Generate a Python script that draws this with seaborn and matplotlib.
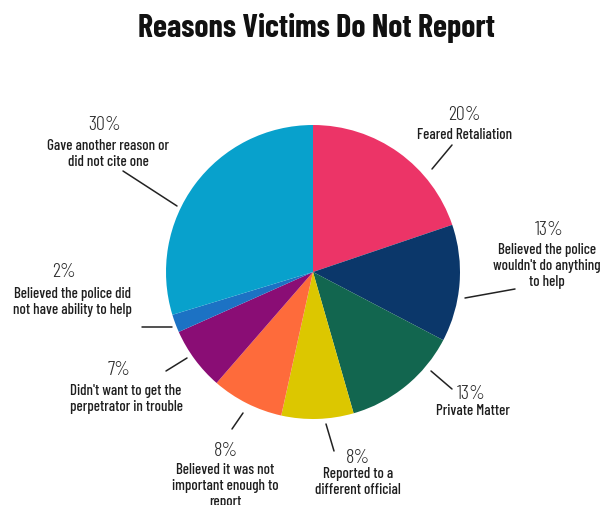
import matplotlib
matplotlib.use("Agg")
import matplotlib.pyplot as plt
from matplotlib.lines import Line2D
import seaborn as sns

categories = [
    "Feared Retaliation",
    "Believed the police\nwouldn't do anything\nto help",
    "Private Matter",
    "Reported to a\ndifferent official",
    "Believed it was not\nimportant enough to\nreport",
    "Didn't want to get the\nperpetrator in trouble",
    "Believed the police did\nnot have ability to help",
    "Gave another reason or\ndid not cite one",
]
values = [20, 13, 13, 8, 8, 7, 2, 30]
pct_labels = ["20%", "13%", "13%", "8%", "8%", "7%", "2%", "30%"]
colors = ["#EC3467", "#0B376A", "#12664F", "#DCC700",
          "#FE6B3B", "#8A0D75", "#1C72C4", "#08A1CC"]

sns.set_theme(style="white")
palette = sns.color_palette(colors)

FAM = ["Barlow Condensed", "DejaVu Sans"]
body_font = dict(family=FAM, size=10.8, weight=500)
title_font = dict(family=FAM, size=23, weight="bold")
pct_font = dict(family=FAM, size=14.5, weight=300)
STEP = 16.5  # px between label lines

W, H = 606, 506
fig = plt.figure(figsize=(W / 100, H / 100), dpi=100)
ax = fig.add_axes([0, 0, 1, 1])
cx, cy, r = 313, 273, 147
ax.pie(values, colors=palette, startangle=90, counterclock=False,
       radius=1, wedgeprops=dict(linewidth=0))
ax.set_xlim(-cx / r, (W - cx) / r)
ax.set_ylim(-(H - cy) / r, cy / r)
ax.set_aspect("equal")
ax.axis("off")

def fx(x):
    return x / W

def fy(y):
    return 1 - y / H

# label layout in pixels: pct (center x, baseline), text (center x, first baseline), leader line
layout = [
    ((464, 120), (465, 139), ((432, 170), (452, 146))),
    ((549, 235), (547, 253), ((465, 299), (515, 290))),
    ((471, 399), (473, 415), ((431, 372), (452, 390))),
    ((358, 463), (358, 478), ((326, 425), (334, 452))),
    ((226, 456), (225, 473), ((243, 414), (232, 430))),
    ((119, 375), (126, 395), ((187, 359), (166, 372))),
    ((64, 277), (72, 298), ((142, 328), (172, 328))),
    ((105, 130), (108, 150), ((123, 172), (177, 207))),
]

for pct, cat, (p, t, (a, b)) in zip(pct_labels, categories, layout):
    fig.text(fx(p[0]), fy(p[1]), pct, ha="center", va="baseline",
             color="#2b2b2b", **pct_font)
    n = cat.count("\n")
    fig.text(fx(t[0]), fy(t[1] + n * STEP), cat, ha="center", va="baseline",
             multialignment="center", color="#1e1e1e", linespacing=1.2,
             **body_font)
    fig.add_artist(Line2D([fx(a[0]), fx(b[0])], [fy(a[1]), fy(b[1])],
                          transform=fig.transFigure, color="#222222", lw=1.1))

fig.text(fx(316), fy(37), "Reasons Victims Do Not Report", ha="center",
         va="baseline", color="#111111", **title_font)

fig.savefig("out.png", dpi=100)
